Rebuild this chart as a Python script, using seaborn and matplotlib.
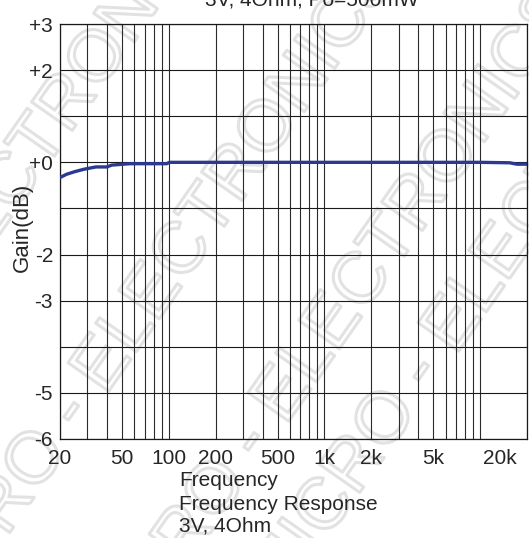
import matplotlib
matplotlib.use("Agg")
import matplotlib.pyplot as plt
import matplotlib.patheffects as pe
import matplotlib.transforms as mtransforms
import numpy as np
import pandas as pd
import seaborn as sns

# data
freq_hz = [20, 22, 25, 28.5, 34, 40, 43, 56, 97, 101, 1000, 10000, 15500, 17200, 20000]
gain_db = [-0.33, -0.26, -0.20, -0.15, -0.10, -0.10, -0.06, -0.03, -0.03, 0.0, 0.0, 0.0, -0.01, -0.04, -0.04]

xtick_vals = [20, 50, 100, 200, 500, 1000, 2000, 5000, 20000]
xtick_labels = ["20", "50", "100", "200", "500", "1k", "2k", "5k", "20k"]
ytick_vals = [3, 2, 1, 0, -1, -2, -3, -4, -5, -6]
ytick_labels = ["+3", "+2", "", "+0", "", "-2", "-3", "", "-5", "-6"]

title = "3V, 4Ohm, Po=500mW"
xlabel = "Frequency"
caption = ["Frequency Response", "3V, 4Ohm"]
ylabel = "Gain(dB)"

sns.set_style("white")
plt.rcParams["font.family"] = ["Liberation Sans", "DejaVu Sans"]

W, H = 529, 538
fig = plt.figure(figsize=(W / 100, H / 100), dpi=100)
ax = fig.add_axes([60 / W, 1 - 439 / H, 467 / W, 415 / H])
ax.patch.set_alpha(0)

df = pd.DataFrame({"freq": freq_hz, "gain": gain_db})

# grid
grid_x = [m * 10 ** e for e in range(1, 5) for m in range(1, 10)]
grid_x = [g for g in grid_x if 20 <= g <= 20000]
for g in grid_x:
    ax.axvline(g, color="#2a2a2a", lw=0.8, zorder=1)
for v in ytick_vals:
    ax.axhline(v, color="#1a1a1a", lw=0.8, zorder=1)

sns.lineplot(data=df, x="freq", y="gain", ax=ax, color="#2b3990", lw=2.4, zorder=3)

ax.set_xscale("log")
ax.set_xlim(20, 20000)
ax.set_ylim(-6, 3)
ax.set_xticks(xtick_vals)
ax.set_xticklabels(xtick_labels)
ax.minorticks_off()
ax.set_yticks(ytick_vals)
ax.set_yticklabels(ytick_labels)
ax.set_yticks(np.arange(-6, 3.01, 0.2), minor=True)
ax.tick_params(axis="y", which="both", direction="in", length=9, width=0.8,
               color="#1a1a1a", labelsize=15, pad=5)
ax.tick_params(axis="x", which="both", length=0, labelsize=15, pad=7)
ax.set_xlabel("")
ax.set_ylabel(ylabel, fontsize=16)
ax.yaxis.set_label_coords(-27 / 467, 0.51)
for s in ax.spines.values():
    s.set_color("#1a1a1a")
    s.set_linewidth(0.9)

# last x label pulled inside the figure
lab = ax.get_xticklabels()[-1]
lab.set_transform(lab.get_transform() + mtransforms.ScaledTranslation(-0.27, 0, fig.dpi_scale_trans))

fig.text(312 / W, 1 - 5 / H, title, ha="center", va="baseline", fontsize=15)
fig.text(179 / W, 1 - 471 / H, xlabel, ha="left", va="top", fontsize=15)
fig.text(179 / W, 1 - 495 / H, caption[0], ha="left", va="top", fontsize=15)
fig.text(179 / W, 1 - 517 / H, caption[1], ha="left", va="top", fontsize=15)

# faint hollow watermark, drawn beneath the chart
wm = "MICRO - ELECTRONICS"
for cx, cy in [(150, 300), (330, 330), (500, 260), (-20, 230)]:
    t = fig.text(cx / W, 1 - cy / H, wm, rotation=55, ha="center", va="center",
                 fontsize=52, color=(1, 1, 1, 0), zorder=-1)
    t.set_path_effects([pe.Stroke(linewidth=2.2, foreground="#e2e2e2")])

fig.savefig("out.png", dpi=100)
